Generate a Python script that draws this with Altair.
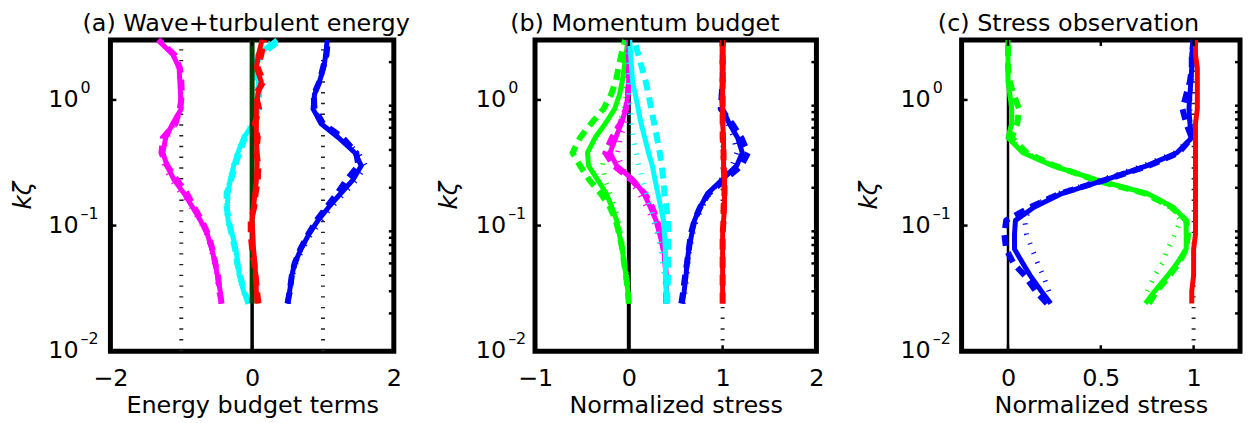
import altair as alt
import pandas as pd

# ---------------- data ----------------
LEV = [0.024, 0.03, 0.04, 0.05, 0.065, 0.085, 0.11, 0.14, 0.18, 0.23,
       0.3, 0.38, 0.5, 0.65, 0.85, 1.1, 1.4, 1.8, 2.3, 3.0]

# panel (a) Wave+turbulent energy
A_MAGENTA_SOLID = [-0.43, -0.45, -0.49, -0.52, -0.57, -0.63, -0.73, -0.84, -0.96, -1.10,
                   -1.20, -1.26, -1.22, -1.12, -1.00, -1.01, -1.02, -1.03, -1.12, -1.33]
A_MAGENTA_DASH = [-0.43, -0.46, -0.48, -0.52, -0.56, -0.62, -0.71, -0.82, -0.92, -1.06,
                  -1.20, -1.28, -1.26, -1.08, -1.02, -0.99, -1.00, -1.02, -1.10, -1.32]
A_MAGENTA_DOT = [-0.44, -0.47, -0.50, -0.53, -0.58, -0.64, -0.74, -0.86, -1.00, -1.14,
                 -1.24, -1.26, -1.20, -1.10, -1.01, -1.00, -1.02, -1.04, -1.12, -1.30]
A_CYAN_SOLID = [-0.05, -0.12, -0.18, -0.20, -0.23, -0.28, -0.34, -0.35, -0.34, -0.31,
                -0.26, -0.20, -0.12, 0.02, 0.06, 0.08, 0.09, 0.04, 0.08, 0.35]
A_CYAN_DASH = [-0.05, -0.11, -0.17, -0.21, -0.24, -0.29, -0.33, -0.36, -0.36, -0.30,
               -0.24, -0.18, -0.10, 0.03, 0.08, 0.10, 0.07, 0.03, 0.12, 0.40]
A_CYAN_DOT = [-0.06, -0.13, -0.19, -0.21, -0.24, -0.29, -0.35, -0.37, -0.35, -0.32,
              -0.27, -0.21, -0.13, 0.00, 0.05, 0.07, 0.08, 0.05, 0.09, 0.30]
A_BLUE_SOLID = [0.50, 0.53, 0.56, 0.60, 0.69, 0.80, 0.93, 1.08, 1.25, 1.42,
                1.54, 1.45, 1.22, 0.97, 0.86, 0.88, 0.95, 1.01, 1.04, 1.06]
A_BLUE_DASH = [0.50, 0.53, 0.56, 0.60, 0.68, 0.79, 0.91, 1.05, 1.20, 1.33,
               1.50, 1.47, 1.28, 1.00, 0.88, 0.87, 0.95, 1.00, 1.05, 1.07]
A_BLUE_DOT = [0.51, 0.54, 0.57, 0.62, 0.71, 0.83, 0.97, 1.12, 1.30, 1.47,
              1.60, 1.50, 1.26, 0.98, 0.87, 0.88, 0.95, 1.01, 1.04, 1.06]
A_RED_SOLID = [0.07, 0.06, 0.05, 0.04, 0.02, 0.01, 0.00, 0.02, 0.04, 0.06,
               0.07, 0.07, 0.06, 0.06, 0.06, 0.08, 0.13, 0.06, 0.09, 0.14]
A_RED_DASH = [0.09, 0.07, 0.05, 0.03, 0.00, -0.02, -0.02, 0.03, 0.05, 0.08,
              0.09, 0.06, 0.08, 0.04, 0.10, 0.05, 0.16, 0.08, 0.13, 0.17]

# panel (b) Momentum budget
B_GREEN_SOLID = [0.00, -0.01, -0.03, -0.05, -0.07, -0.10, -0.13, -0.18, -0.24, -0.33,
                 -0.43, -0.44, -0.36, -0.25, -0.15, -0.10, -0.07, -0.05, -0.03, -0.01]
B_GREEN_DASH = [0.00, -0.01, -0.03, -0.05, -0.07, -0.10, -0.14, -0.20, -0.30, -0.42,
                -0.52, -0.60, -0.52, -0.40, -0.27, -0.19, -0.14, -0.11, -0.08, -0.04]
B_GREEN_DOT = [0.00, -0.01, -0.02, -0.04, -0.06, -0.08, -0.11, -0.15, -0.20, -0.25,
               -0.28, -0.26, -0.18, -0.10, -0.05, -0.03, -0.02, -0.01, -0.01, 0.00]
B_MAGENTA_SOLID = [0.40, 0.40, 0.40, 0.39, 0.37, 0.33, 0.29, 0.23, 0.16, 0.05,
                   -0.13, -0.20, -0.14, -0.08, -0.03, -0.01, 0.00, 0.00, 0.00, 0.00]
B_MAGENTA_DASH = [0.40, 0.40, 0.40, 0.39, 0.37, 0.34, 0.30, 0.25, 0.17, 0.03,
                  -0.16, -0.25, -0.18, -0.09, -0.03, -0.01, 0.00, 0.00, 0.00, 0.00]
B_MAGENTA_DOT = [0.40, 0.40, 0.39, 0.38, 0.35, 0.31, 0.26, 0.19, 0.11, 0.01,
                 -0.08, -0.12, -0.09, -0.04, -0.01, 0.00, 0.00, 0.00, 0.00, 0.00]
B_CYAN_SOLID = [0.40, 0.40, 0.39, 0.39, 0.39, 0.38, 0.37, 0.34, 0.31, 0.28,
                0.25, 0.21, 0.17, 0.13, 0.10, 0.07, 0.04, 0.03, 0.02, 0.01]
B_CYAN_DASH = [0.41, 0.41, 0.42, 0.42, 0.42, 0.42, 0.42, 0.40, 0.38, 0.37,
               0.35, 0.33, 0.30, 0.27, 0.24, 0.21, 0.18, 0.14, 0.10, 0.06]
B_CYAN_DOT = [0.40, 0.39, 0.38, 0.36, 0.34, 0.31, 0.27, 0.23, 0.19, 0.15,
              0.11, 0.08, 0.05, 0.03, 0.01, 0.00, 0.00, 0.00, 0.00, 0.00]
B_BLUE_SOLID = [0.57, 0.59, 0.61, 0.62, 0.64, 0.67, 0.70, 0.76, 0.84, 0.99,
                1.15, 1.21, 1.16, 1.07, 1.00, 0.99, 1.00, 1.00, 1.00, 1.00]
B_BLUE_DASH = [0.56, 0.58, 0.60, 0.62, 0.64, 0.66, 0.70, 0.76, 0.85, 1.02,
               1.20, 1.27, 1.20, 1.10, 0.98, 0.99, 1.00, 1.00, 1.00, 1.00]
B_BLUE_DOT = [0.58, 0.60, 0.62, 0.63, 0.65, 0.68, 0.72, 0.78, 0.86, 0.98,
              1.10, 1.15, 1.12, 1.05, 1.00, 1.00, 1.00, 1.00, 1.00, 1.00]
B_RED_SOLID = [1.00, 1.00, 1.00, 1.00, 1.00, 1.00, 1.01, 1.02, 1.02, 1.02,
               1.01, 1.01, 1.01, 1.00, 1.00, 1.00, 1.00, 1.00, 1.00, 1.00]
B_RED_DASH = [1.00, 1.00, 1.00, 1.00, 1.00, 1.00, 1.01, 1.01, 1.02, 1.02,
              1.01, 1.01, 1.00, 1.00, 1.00, 1.00, 1.00, 1.00, 1.00, 1.00]

# panel (c) Stress observation
C_GREEN_SOLID = [0.74, 0.79, 0.86, 0.91, 0.96, 0.96, 0.96, 0.89, 0.75, 0.48,
                 0.24, 0.08, 0.00, 0.02, 0.02, 0.01, 0.00, 0.00, 0.00, 0.00]
C_GREEN_DASH = [0.76, 0.80, 0.87, 0.92, 0.96, 0.97, 0.96, 0.88, 0.74, 0.47,
                0.25, 0.10, 0.02, 0.05, 0.06, 0.03, 0.01, 0.00, 0.00, 0.00]
C_GREEN_DOT = [None, 0.75, 0.79, 0.83, 0.86, 0.90, 0.93, 0.88, 0.74, 0.49,
               0.25, 0.09, 0.01, 0.02, 0.02, 0.01, 0.00, 0.00, 0.00, 0.00]
C_BLUE_SOLID = [0.23, 0.18, 0.12, 0.08, 0.035, 0.035, 0.04, 0.14, 0.29, 0.52,
                0.75, 0.91, 0.99, 0.98, 0.975, 0.98, 0.985, 0.99, 0.99, 1.00]
C_BLUE_DASH = [0.21, 0.15, 0.09, 0.03, -0.01, -0.02, -0.01, 0.12, 0.28, 0.52,
               0.76, 0.92, 0.99, 0.96, 0.94, 0.96, 0.98, 0.99, 0.99, 1.00]
C_BLUE_DOT = [None, 0.22, 0.19, 0.16, 0.13, 0.10, 0.09, 0.12, 0.27, 0.50,
              0.73, 0.90, 0.99, 0.98, 0.98, 0.98, 0.99, 0.99, 0.99, 1.00]
C_RED_SOLID = [0.99, 0.99, 1.00, 1.00, 1.00, 1.01, 1.01, 1.01, 1.01, 1.01,
               1.01, 1.01, 1.01, 1.01, 1.02, 1.02, 1.02, 1.02, 1.01, 1.01]

# axes / labels
Y_DOMAIN = [0.01, 3.0]
Y_MAJOR = [0.01, 0.1, 1.0]
Y_MAJOR_BASE = ["10", "10", "10"]
Y_MAJOR_EXP = ["\u20132", "\u20131", "0"]
Y_MINOR = [0.02, 0.03, 0.04, 0.05, 0.06, 0.07, 0.08, 0.09,
           0.2, 0.3, 0.4, 0.5, 0.6, 0.7, 0.8, 0.9, 2.0, 3.0]
A_X_DOMAIN, A_X_TICKS = [-2, 2], [-2, 0, 2]
B_X_DOMAIN, B_X_TICKS = [-1, 2], [-1, 0, 1, 2]
C_X_DOMAIN, C_X_TICKS = [-0.25, 1.25], [0, 0.5, 1]
A_DOTTED_REF = [-1, 1]
B_DOTTED_REF = [1]
C_DOTTED_REF = [1]
TITLES = ["(a) Wave+turbulent energy", "(b) Momentum budget", "(c) Stress observation"]
XTITLES = ["Energy budget terms", "Normalized stress", "Normalized stress"]
YTITLE = "k\u03b6"

FONT = "DejaVu Sans"
H = 313
MAGENTA, CYAN, BLUE, RED, GREEN = "#ff00ff", "#00ffff", "#0000ff", "#ff0000", "#00ff00"
DKGREEN = "#004000"


def make_panel(width, xdom, xticks, xtitle, title, title_cx, ylab_x, ytitle_x,
               series, dotted_refs, zero_width):
    xs = alt.Scale(domain=xdom, nice=False, zero=False)
    ys = alt.Scale(type="log", domain=Y_DOMAIN, nice=False)
    xaxis = alt.Axis(values=xticks, ticks=False, domain=False, grid=False,
                     labelFontSize=24, labelFont=FONT, labelColor="black",
                     labelPadding=15, labelFlush=False, format="~g",
                     title=xtitle, titleFont=FONT, titleFontSize=24,
                     titleFontWeight="normal", titleColor="black", titlePadding=4)

    def X(f="x:Q"):
        return alt.X(f, scale=xs, axis=xaxis)

    def Y(f="y:Q"):
        return alt.Y(f, scale=ys, axis=None)

    layers = []
    # dotted reference lines
    ref = pd.DataFrame({"x": [v for v in dotted_refs for _ in range(2)],
                        "y": [Y_DOMAIN[0], Y_DOMAIN[1]] * len(dotted_refs),
                        "g": [k for k in range(len(dotted_refs)) for _ in range(2)]})
    layers.append(alt.Chart(ref).mark_line(color="#222222", strokeWidth=4,
                                           strokeDash=[1.4, 9.4], strokeCap="butt")
                  .encode(x=X(), y=Y(), detail="g:N"))
    # zero line
    zero = pd.DataFrame({"x": [0, 0], "y": Y_DOMAIN})
    layers.append(alt.Chart(zero).mark_line(color="black", strokeWidth=zero_width)
                  .encode(x=X(), y=Y()))

    styles = {
        "solid": dict(strokeWidth=5),
        "dash": dict(strokeWidth=6, strokeDash=[11, 7]),
        "dot": dict(strokeWidth=5, strokeDash=[1.2, 9]),
    }
    for color, style, vals in series:
        if color == "darkgreen":
            df = pd.DataFrame({"x": [0, 0], "y": [LEV[0], LEV[-1]], "i": [0, 1]})
            layers.append(alt.Chart(df).mark_line(color=DKGREEN, strokeWidth=5)
                          .encode(x=X(), y=Y(), order="i:Q"))
            continue
        df = pd.DataFrame({"y": LEV, "x": vals, "i": list(range(len(LEV)))}).dropna()
        layers.append(alt.Chart(df).mark_line(color=color, strokeCap="butt",
                                              strokeJoin="round", **styles[style])
                      .encode(x=X(), y=Y(), order="i:Q"))

    # inward ticks
    ymaj = pd.DataFrame({"y": Y_MAJOR, "base": Y_MAJOR_BASE, "exp": Y_MAJOR_EXP})
    ymin = pd.DataFrame({"y": Y_MINOR})
    xmaj = pd.DataFrame({"x": xticks})
    layers.append(alt.Chart(ymaj).mark_rule(color="black", strokeWidth=2.5)
                  .encode(y=Y(), x=alt.value(0), x2=alt.value(6)))
    layers.append(alt.Chart(ymin).mark_rule(color="black", strokeWidth=2.5)
                  .encode(y=Y(), x=alt.value(width - 5), x2=alt.value(width)))
    layers.append(alt.Chart(xmaj).mark_rule(color="black", strokeWidth=2.5)
                  .encode(x=X(), y=alt.value(H), y2=alt.value(H - 6)))
    layers.append(alt.Chart(xmaj).mark_rule(color="black", strokeWidth=2.5)
                  .encode(x=X(), y=alt.value(0), y2=alt.value(6)))

    # y tick labels 10^n
    layers.append(alt.Chart(ymaj).mark_text(font=FONT, fontSize=24, align="right",
                                            baseline="middle", color="black")
                  .encode(y=Y(), x=alt.value(ylab_x), text="base:N"))
    layers.append(alt.Chart(ymaj).mark_text(font=FONT, fontSize=16, align="left",
                                            baseline="middle", dy=-12, color="black")
                  .encode(y=Y(), x=alt.value(ylab_x + 2), text="exp:N"))
    # y title
    layers.append(alt.Chart(pd.DataFrame({"t": [YTITLE]}))
                  .mark_text(font=FONT, fontSize=25, fontStyle="italic", angle=270,
                             align="center", baseline="middle", color="black")
                  .encode(text="t:N", x=alt.value(ytitle_x), y=alt.value(H / 2)))
    # panel title
    layers.append(alt.Chart(pd.DataFrame({"t": [title]}))
                  .mark_text(font=FONT, fontSize=24, align="center",
                             baseline="alphabetic", color="black")
                  .encode(text="t:N", x=alt.value(title_cx), y=alt.value(-9.5)))
    return alt.layer(*layers).properties(width=width, height=H)


panel_a = make_panel(
    285, A_X_DOMAIN, A_X_TICKS, XTITLES[0], TITLES[0], 136.5, -32, -88,
    [(MAGENTA, "solid", A_MAGENTA_SOLID), (MAGENTA, "dash", A_MAGENTA_DASH),
     (MAGENTA, "dot", A_MAGENTA_DOT),
     (CYAN, "solid", A_CYAN_SOLID), (CYAN, "dash", A_CYAN_DASH), (CYAN, "dot", A_CYAN_DOT),
     (BLUE, "solid", A_BLUE_SOLID), (BLUE, "dash", A_BLUE_DASH), (BLUE, "dot", A_BLUE_DOT),
     ("darkgreen", "solid", None),
     (RED, "solid", A_RED_SOLID), (RED, "dash", A_RED_DASH)],
    A_DOTTED_REF, 3.5)

panel_b = make_panel(
    283, B_X_DOMAIN, B_X_TICKS, XTITLES[1], TITLES[1], 110.5, -29, -86,
    [(GREEN, "solid", B_GREEN_SOLID), (GREEN, "dash", B_GREEN_DASH), (GREEN, "dot", B_GREEN_DOT),
     (MAGENTA, "solid", B_MAGENTA_SOLID), (MAGENTA, "dash", B_MAGENTA_DASH),
     (MAGENTA, "dot", B_MAGENTA_DOT),
     (CYAN, "solid", B_CYAN_SOLID), (CYAN, "dash", B_CYAN_DASH), (CYAN, "dot", B_CYAN_DOT),
     (BLUE, "solid", B_BLUE_SOLID), (BLUE, "dash", B_BLUE_DASH), (BLUE, "dot", B_BLUE_DOT),
     (RED, "solid", B_RED_SOLID), (RED, "dash", B_RED_DASH)],
    B_DOTTED_REF, 4)

panel_c = make_panel(
    280, C_X_DOMAIN, C_X_TICKS, XTITLES[2], TITLES[2], 107.5, -31, -93,
    [(GREEN, "solid", C_GREEN_SOLID), (GREEN, "dash", C_GREEN_DASH), (GREEN, "dot", C_GREEN_DOT),
     (BLUE, "solid", C_BLUE_SOLID), (BLUE, "dash", C_BLUE_DASH), (BLUE, "dot", C_BLUE_DOT),
     (RED, "solid", C_RED_SOLID)],
    C_DOTTED_REF, 2.5)

chart = alt.hconcat(
    panel_a,
    alt.hconcat(panel_b, panel_c, spacing=146, bounds="flush"),
    spacing=142, bounds="flush",
).properties(
    padding={"left": 0, "top": 0, "right": 0, "bottom": 0}
).configure_view(stroke="black", strokeWidth=5)

chart.save("out.html", embed_options={"renderer": "svg", "actions": False})
